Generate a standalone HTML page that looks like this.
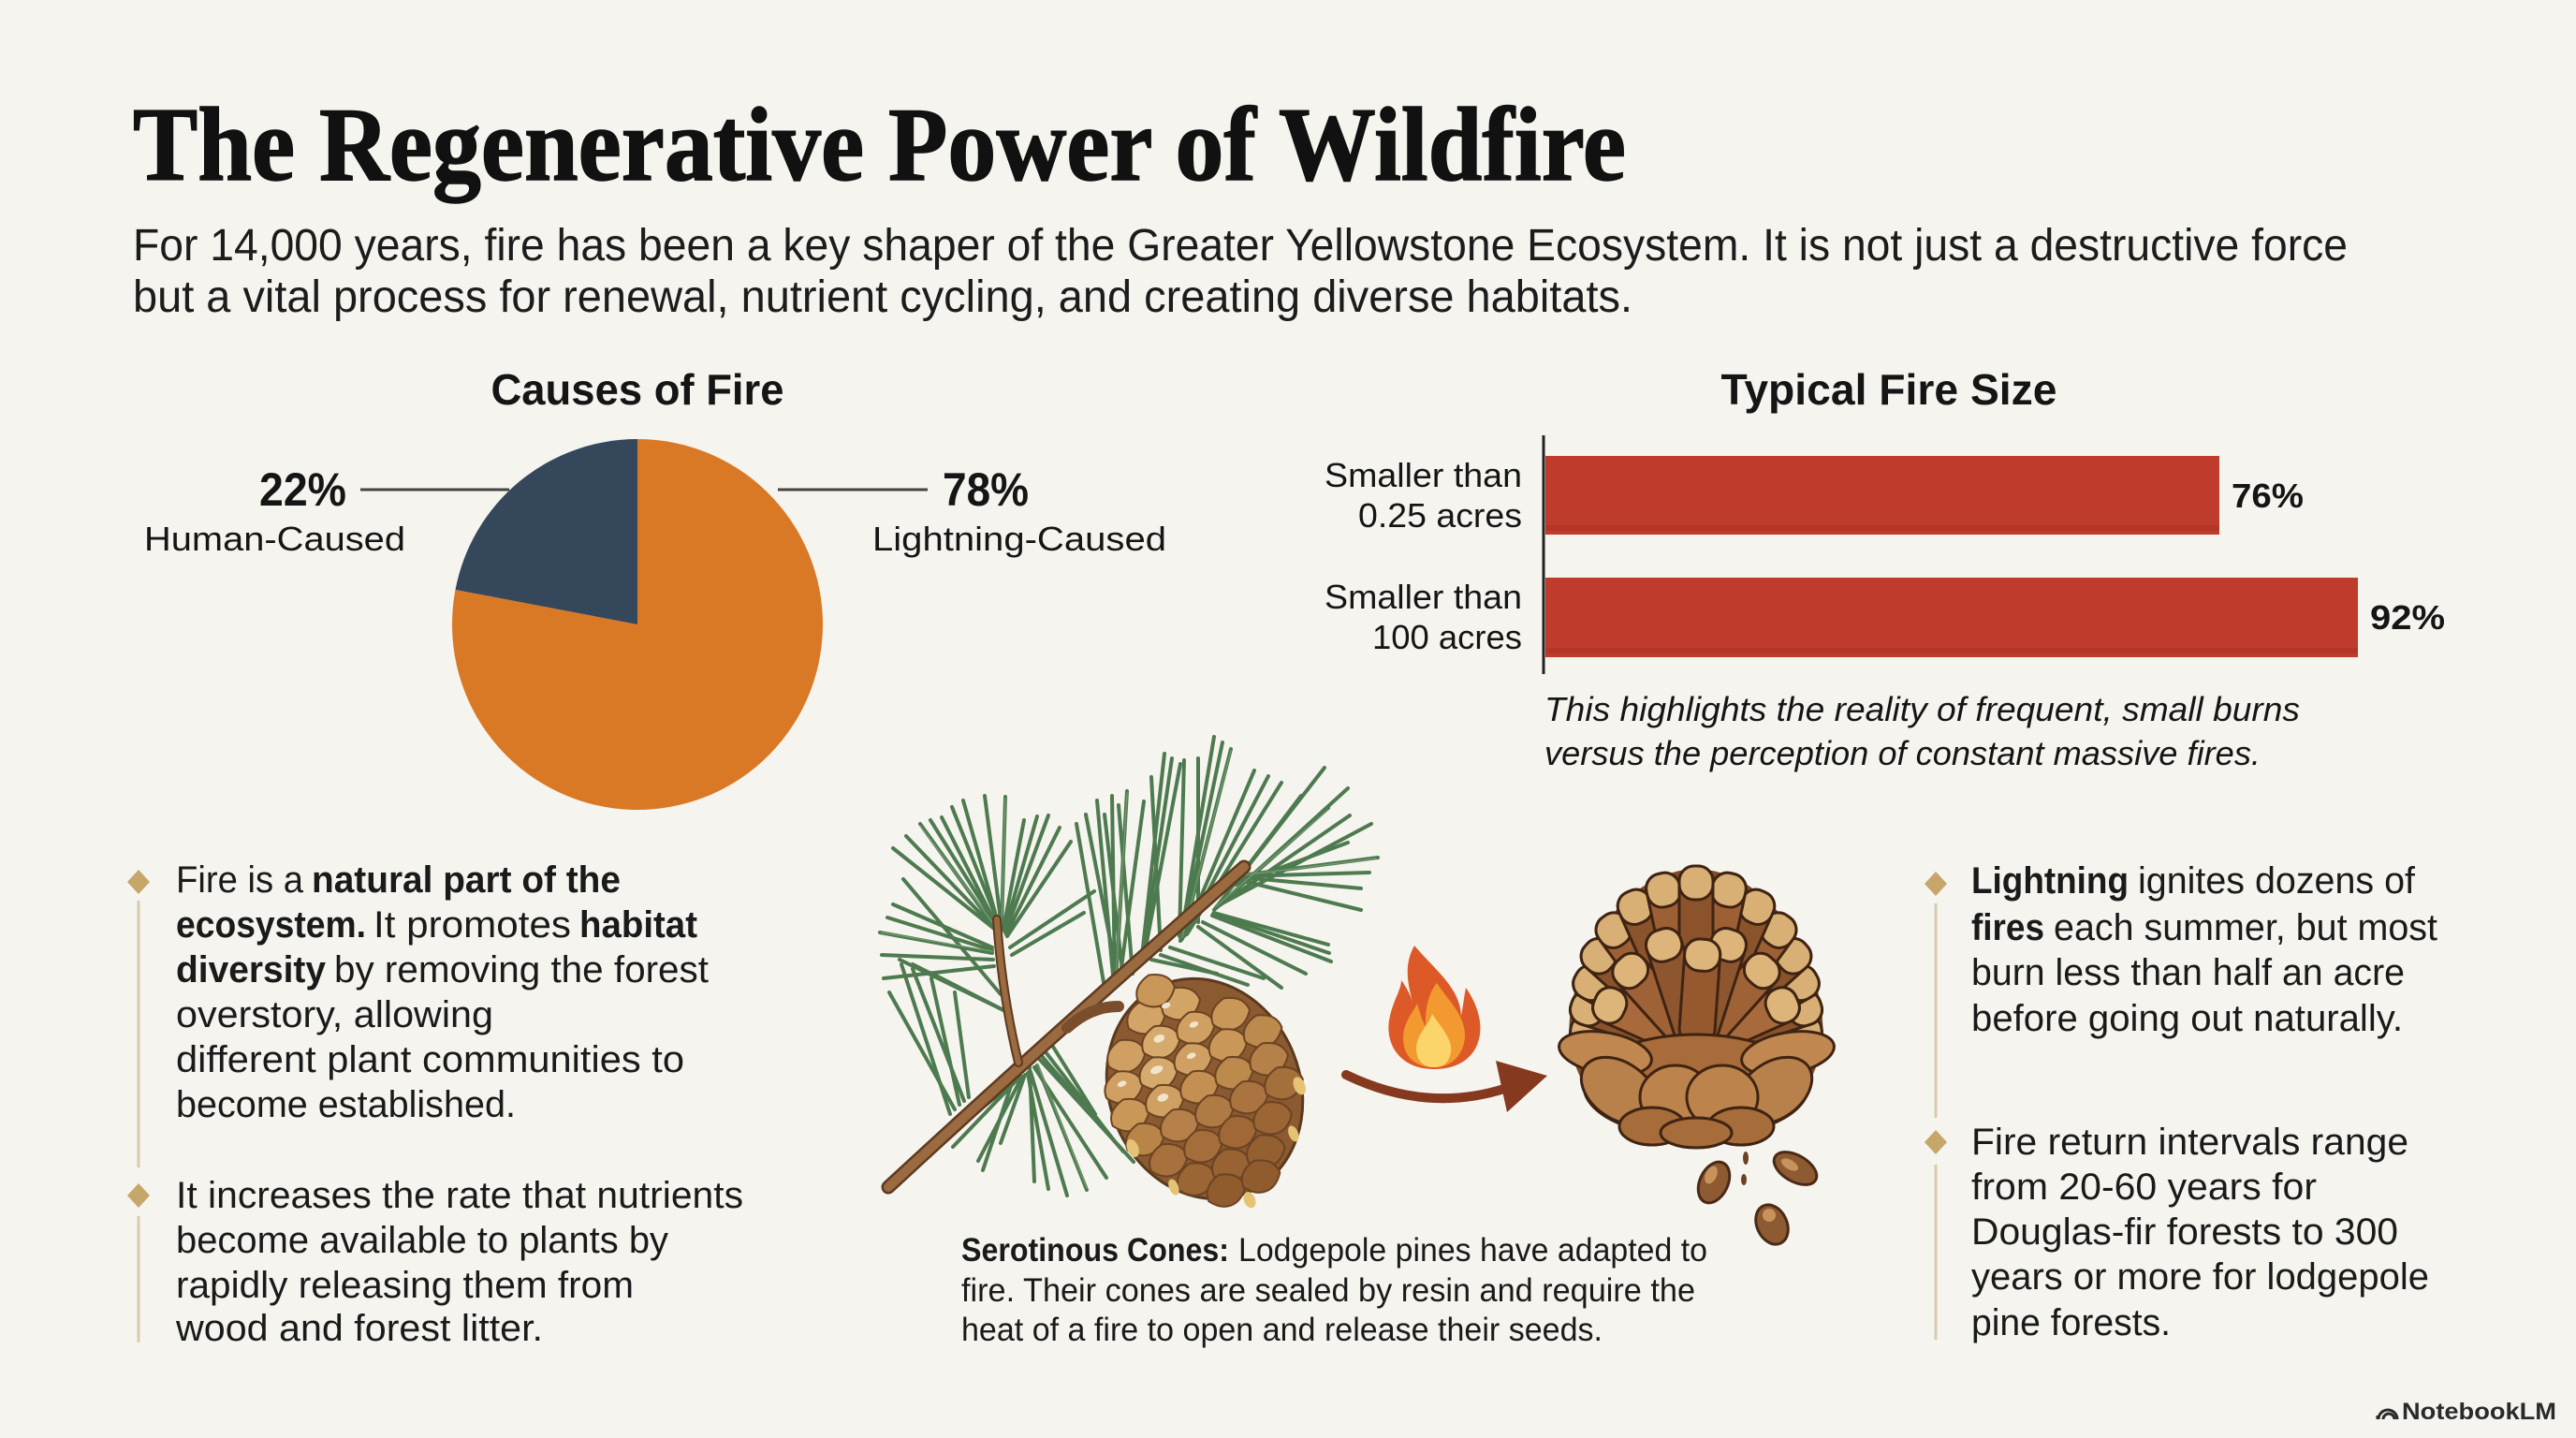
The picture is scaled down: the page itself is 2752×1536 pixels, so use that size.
<!DOCTYPE html>
<html>
<head>
<meta charset="utf-8">
<style>
html,body{margin:0;padding:0;background:#F5F4EF;}
svg{display:block;}
.sans{font-family:"Liberation Sans",Arial,sans-serif;}
.serif{font-family:"Liberation Serif","Times New Roman",serif;}
</style>
</head>
<body>
<svg width="2752" height="1536" viewBox="0 0 2752 1536" xmlns="http://www.w3.org/2000/svg">
<rect width="2752" height="1536" fill="#F5F4EF"/>

<!-- Title -->
<text class="serif" x="142" y="192" font-size="112" font-weight="bold" fill="#111" stroke="#111" stroke-width="1.5" textLength="1595" lengthAdjust="spacingAndGlyphs">The Regenerative Power of Wildfire</text>

<!-- Subtitle -->
<g class="sans" font-size="48" fill="#1c1c1c">
<text x="142" y="278" textLength="2366" lengthAdjust="spacingAndGlyphs">For 14,000 years, fire has been a key shaper of the Greater Yellowstone Ecosystem. It is not just a destructive force</text>
<text x="142" y="333" textLength="1602" lengthAdjust="spacingAndGlyphs">but a vital process for renewal, nutrient cycling, and creating diverse habitats.</text>
</g>

<!-- Causes of Fire -->
<text class="sans" x="681" y="432" font-size="46" font-weight="bold" fill="#151515" text-anchor="middle" textLength="313" lengthAdjust="spacingAndGlyphs">Causes of Fire</text>
<path d="M681,667 L486.5,629.9 A198,198 0 1 0 681,469 Z" fill="#D97926"/>
<path d="M681,667 L681,469 A198,198 0 0 0 486.5,629.9 Z" fill="#34475B"/>
<line x1="385" y1="523" x2="544" y2="523" stroke="#444" stroke-width="3"/>
<line x1="831" y1="523" x2="991" y2="523" stroke="#444" stroke-width="3"/>
<g class="sans" fill="#151515">
<text x="277" y="540" font-size="50" font-weight="bold" textLength="93" lengthAdjust="spacingAndGlyphs">22%</text>
<text x="154" y="588" font-size="36" textLength="279" lengthAdjust="spacingAndGlyphs">Human-Caused</text>
<text x="1007" y="540" font-size="50" font-weight="bold" textLength="92" lengthAdjust="spacingAndGlyphs">78%</text>
<text x="932" y="588" font-size="36" textLength="314" lengthAdjust="spacingAndGlyphs">Lightning-Caused</text>
</g>

<!-- Typical Fire Size -->
<text class="sans" x="2018" y="432" font-size="46" font-weight="bold" fill="#151515" text-anchor="middle" textLength="359" lengthAdjust="spacingAndGlyphs">Typical Fire Size</text>
<rect x="1651" y="487" width="720" height="84" fill="#BF3B2B"/>
<rect x="1651" y="561" width="720" height="6" fill="#A93324" opacity="0.6"/>
<rect x="1651" y="617" width="868" height="85" fill="#BF3B2B"/>
<rect x="1651" y="692" width="868" height="6" fill="#A93324" opacity="0.6"/>
<line x1="1649" y1="465" x2="1649" y2="720" stroke="#222" stroke-width="3"/>
<g class="sans" fill="#151515" font-size="36">
<text x="1626" y="520" text-anchor="end" textLength="211" lengthAdjust="spacingAndGlyphs">Smaller than</text>
<text x="1626" y="563" text-anchor="end" textLength="175" lengthAdjust="spacingAndGlyphs">0.25 acres</text>
<text x="1626" y="650" text-anchor="end" textLength="211" lengthAdjust="spacingAndGlyphs">Smaller than</text>
<text x="1626" y="693" text-anchor="end" textLength="160" lengthAdjust="spacingAndGlyphs">100 acres</text>
<text x="2384" y="542" font-weight="bold" textLength="77" lengthAdjust="spacingAndGlyphs">76%</text>
<text x="2532" y="672" font-weight="bold" textLength="80" lengthAdjust="spacingAndGlyphs">92%</text>
<text x="1650" y="770" font-style="italic" textLength="807" lengthAdjust="spacingAndGlyphs">This highlights the reality of frequent, small burns</text>
<text x="1650" y="817" font-style="italic" textLength="765" lengthAdjust="spacingAndGlyphs">versus the perception of constant massive fires.</text>
</g>

<!-- Left bullets -->
<line x1="148" y1="962" x2="148" y2="1247" stroke="#D9CBAE" stroke-width="3"/>
<line x1="148" y1="1299" x2="148" y2="1434" stroke="#D9CBAE" stroke-width="3"/>
<path d="M148,929 L160,942 L148,955 L136,942 Z" fill="#C7A66A"/>
<path d="M148,1264 L160,1277 L148,1290 L136,1277 Z" fill="#C7A66A"/>
<g class="sans" fill="#1a1a1a" font-size="40">
<text x="188" y="953" textLength="136" lengthAdjust="spacingAndGlyphs">Fire is a</text>
<text x="333" y="953" font-weight="bold" textLength="330" lengthAdjust="spacingAndGlyphs">natural part of the</text>
<text x="188" y="1001" font-weight="bold" textLength="203" lengthAdjust="spacingAndGlyphs">ecosystem.</text>
<text x="399" y="1001" textLength="211" lengthAdjust="spacingAndGlyphs">It promotes</text>
<text x="619" y="1001" font-weight="bold" textLength="126" lengthAdjust="spacingAndGlyphs">habitat</text>
<text x="188" y="1049" font-weight="bold" textLength="160" lengthAdjust="spacingAndGlyphs">diversity</text>
<text x="357" y="1049" textLength="400" lengthAdjust="spacingAndGlyphs">by removing the forest</text>
<text x="188" y="1097" textLength="339" lengthAdjust="spacingAndGlyphs">overstory, allowing</text>
<text x="188" y="1145" textLength="543" lengthAdjust="spacingAndGlyphs">different plant communities to</text>
<text x="188" y="1193" textLength="363" lengthAdjust="spacingAndGlyphs">become established.</text>
<text x="188" y="1290" textLength="606" lengthAdjust="spacingAndGlyphs">It increases the rate that nutrients</text>
<text x="188" y="1338" textLength="526" lengthAdjust="spacingAndGlyphs">become available to plants by</text>
<text x="188" y="1386" textLength="489" lengthAdjust="spacingAndGlyphs">rapidly releasing them from</text>
<text x="188" y="1432" textLength="392" lengthAdjust="spacingAndGlyphs">wood and forest litter.</text>
</g>

<!-- Right bullets -->
<line x1="2068" y1="965" x2="2068" y2="1194" stroke="#D9CBAE" stroke-width="3"/>
<line x1="2068" y1="1244" x2="2068" y2="1431" stroke="#D9CBAE" stroke-width="3"/>
<path d="M2068,931 L2080,944 L2068,957 L2056,944 Z" fill="#C7A66A"/>
<path d="M2068,1207 L2080,1220 L2068,1233 L2056,1220 Z" fill="#C7A66A"/>
<g class="sans" fill="#1a1a1a" font-size="40">
<text x="2106" y="954" font-weight="bold" textLength="168" lengthAdjust="spacingAndGlyphs">Lightning</text>
<text x="2284" y="954" textLength="296" lengthAdjust="spacingAndGlyphs">ignites dozens of</text>
<text x="2106" y="1004" font-weight="bold" textLength="78" lengthAdjust="spacingAndGlyphs">fires</text>
<text x="2194" y="1004" textLength="410" lengthAdjust="spacingAndGlyphs">each summer, but most</text>
<text x="2106" y="1052" textLength="463" lengthAdjust="spacingAndGlyphs">burn less than half an acre</text>
<text x="2106" y="1101" textLength="461" lengthAdjust="spacingAndGlyphs">before going out naturally.</text>
<text x="2106" y="1233" textLength="467" lengthAdjust="spacingAndGlyphs">Fire return intervals range</text>
<text x="2106" y="1281" textLength="369" lengthAdjust="spacingAndGlyphs">from 20-60 years for</text>
<text x="2106" y="1329" textLength="456" lengthAdjust="spacingAndGlyphs">Douglas-fir forests to 300</text>
<text x="2106" y="1377" textLength="489" lengthAdjust="spacingAndGlyphs">years or more for lodgepole</text>
<text x="2106" y="1426" textLength="213" lengthAdjust="spacingAndGlyphs">pine forests.</text>
</g>

<!-- Caption -->
<g class="sans" fill="#1a1a1a" font-size="35">
<text x="1027" y="1347" font-weight="bold" textLength="286" lengthAdjust="spacingAndGlyphs">Serotinous Cones:</text>
<text x="1323" y="1347" textLength="501" lengthAdjust="spacingAndGlyphs">Lodgepole pines have adapted to</text>
<text x="1027" y="1390" textLength="784" lengthAdjust="spacingAndGlyphs">fire. Their cones are sealed by resin and require the</text>
<text x="1027" y="1432" textLength="685" lengthAdjust="spacingAndGlyphs">heat of a fire to open and release their seeds.</text>
</g>

<!-- Pine branch needles -->
<g stroke="#4E7A4F" stroke-width="4" stroke-linecap="round" fill="none">
<line x1="1066" y1="995" x2="954" y2="906"/>
<line x1="1066" y1="995" x2="983" y2="880"/>
<line x1="1068" y1="995" x2="1006" y2="873"/>
<line x1="1068" y1="992" x2="1029" y2="855"/>
<line x1="1070" y1="990" x2="1074" y2="851"/>
<line x1="1072" y1="992" x2="1094" y2="876"/>
<line x1="1074" y1="996" x2="1120" y2="871"/>
<line x1="1076" y1="1000" x2="1144" y2="899"/>
<line x1="1060" y1="1012" x2="954" y2="966"/>
<line x1="1060" y1="1018" x2="940" y2="996"/>
<line x1="1062" y1="1032" x2="944" y2="1045"/>
<line x1="1072" y1="1079" x2="961" y2="1025"/>
<line x1="1072" y1="1079" x2="994" y2="1039"/>
<line x1="1069" y1="1062" x2="965" y2="939"/>
<line x1="1079" y1="1012" x2="1169" y2="952"/>
<line x1="1081" y1="1020" x2="1158" y2="975"/>
<line x1="1015" y1="1190" x2="963" y2="1030"/>
<line x1="1025" y1="1180" x2="995" y2="1045"/>
<line x1="1035" y1="1172" x2="1020" y2="1060"/>
<line x1="1111" y1="1132" x2="1211" y2="1241"/>
<line x1="1108" y1="1138" x2="1161" y2="1271"/>
<line x1="1101" y1="1145" x2="1140" y2="1277"/>
<line x1="1095" y1="1148" x2="1069" y2="1221"/>
<line x1="1118" y1="1125" x2="1190" y2="1218"/>
<line x1="1090" y1="1151" x2="1022" y2="1205"/>
<line x1="1085" y1="1155" x2="1018" y2="1225"/>
<line x1="1125" y1="1118" x2="1170" y2="1190"/>
<line x1="1080" y1="1160" x2="1050" y2="1250"/>
<line x1="1100" y1="1140" x2="1105" y2="1262"/>
<line x1="1190" y1="1052" x2="1172" y2="855"/>
<line x1="1192" y1="1050" x2="1204" y2="845"/>
<line x1="1196" y1="1048" x2="1222" y2="856"/>
<line x1="1219" y1="1030" x2="1244" y2="805"/>
<line x1="1221" y1="1028" x2="1261" y2="816"/>
<line x1="1261" y1="1005" x2="1297" y2="787"/>
<line x1="1263" y1="1003" x2="1315" y2="800"/>
<line x1="1265" y1="1000" x2="1340" y2="823"/>
<line x1="1268" y1="998" x2="1369" y2="836"/>
<line x1="1297" y1="972" x2="1415" y2="820"/>
<line x1="1299" y1="970" x2="1419" y2="863"/>
<line x1="1300" y1="968" x2="1465" y2="880"/>
<line x1="1326" y1="935" x2="1472" y2="916"/>
<line x1="1326" y1="937" x2="1454" y2="949"/>
<line x1="1324" y1="940" x2="1454" y2="972"/>
<line x1="1297" y1="975" x2="1419" y2="1009"/>
<line x1="1295" y1="978" x2="1422" y2="1027"/>
<line x1="1280" y1="990" x2="1369" y2="1055"/>
<line x1="1240" y1="1020" x2="1333" y2="1052"/>
<line x1="1230" y1="1025" x2="1300" y2="1040"/>
<line x1="1180" y1="1055" x2="1150" y2="880"/>
<line x1="1200" y1="1045" x2="1180" y2="870"/>
<line x1="1240" y1="1015" x2="1230" y2="830"/>
<line x1="1280" y1="985" x2="1280" y2="810"/>
<line x1="1310" y1="955" x2="1390" y2="850"/>
<line x1="1320" y1="945" x2="1440" y2="900"/>
<line x1="1066" y1="995" x2="968" y2="893"/>
<line x1="1068" y1="994" x2="994" y2="876"/>
<line x1="1069" y1="992" x2="1017" y2="862"/>
<line x1="1070" y1="990" x2="1052" y2="850"/>
<line x1="1073" y1="994" x2="1108" y2="872"/>
<line x1="1075" y1="998" x2="1132" y2="884"/>
<line x1="1060" y1="1015" x2="948" y2="980"/>
<line x1="1061" y1="1025" x2="942" y2="1020"/>
<line x1="1072" y1="1079" x2="975" y2="1030"/>
<line x1="1030" y1="1176" x2="975" y2="1035"/>
<line x1="1020" y1="1185" x2="950" y2="1060"/>
<line x1="1105" y1="1140" x2="1182" y2="1258"/>
<line x1="1098" y1="1146" x2="1120" y2="1270"/>
<line x1="1092" y1="1150" x2="1045" y2="1240"/>
<line x1="1113" y1="1128" x2="1200" y2="1230"/>
<line x1="1088" y1="1153" x2="1000" y2="1215"/>
<line x1="1191" y1="1051" x2="1188" y2="850"/>
<line x1="1220" y1="1029" x2="1252" y2="810"/>
<line x1="1262" y1="1004" x2="1306" y2="793"/>
<line x1="1266" y1="999" x2="1355" y2="829"/>
<line x1="1298" y1="971" x2="1440" y2="842"/>
<line x1="1300" y1="969" x2="1442" y2="871"/>
<line x1="1325" y1="936" x2="1463" y2="932"/>
<line x1="1296" y1="976" x2="1420" y2="1018"/>
<line x1="1285" y1="985" x2="1395" y2="1040"/>
<line x1="1250" y1="1012" x2="1350" y2="1045"/>
<line x1="1210" y1="1040" x2="1195" y2="860"/>
<line x1="1260" y1="1000" x2="1265" y2="812"/>
<line x1="1195" y1="1050" x2="1160" y2="870"/>
</g>
<g stroke="#7FA37A" stroke-width="1.2" stroke-linecap="round" fill="none" opacity="0.8">
<line x1="1066" y1="993" x2="983" y2="882"/>
<line x1="1070" y1="988" x2="1074" y2="853"/>
<line x1="1060" y1="1016" x2="942" y2="996"/>
<line x1="1192" y1="1048" x2="1204" y2="847"/>
<line x1="1263" y1="1001" x2="1315" y2="802"/>
<line x1="1299" y1="968" x2="1419" y2="865"/>
<line x1="1326" y1="935" x2="1470" y2="917"/>
<line x1="1108" y1="1136" x2="1161" y2="1269"/>
</g>

<!-- Branch -->
<path d="M949,1268 Q1120,1110 1329,926" stroke="#5E3A20" stroke-width="15" fill="none" stroke-linecap="round"/>
<path d="M949,1268 Q1120,1110 1329,926" stroke="#9A6A40" stroke-width="10" fill="none" stroke-linecap="round"/>
<path d="M1088,1135 Q1070,1060 1065,982" stroke="#5E3A20" stroke-width="10" fill="none" stroke-linecap="round"/>
<path d="M1088,1135 Q1070,1060 1065,982" stroke="#9A6A40" stroke-width="6" fill="none" stroke-linecap="round"/>
<path d="M1140,1098 Q1165,1075 1195,1075" stroke="#7A4E2C" stroke-width="12" fill="none" stroke-linecap="round"/>

<!-- Closed cone -->
<defs>
<path id="sc" d="M0,-17 Q21,-12 21,5 Q12,18 0,18 Q-12,18 -21,5 Q-21,-12 0,-17Z"/>
</defs>
<g transform="translate(1287,1163) rotate(-22)">
<ellipse cx="0" cy="0" rx="102" ry="120" fill="#8C5A30" stroke="#5A3A1E" stroke-width="3"/>
<g stroke="#6B4423" stroke-width="2">
<use href="#sc" x="-30" y="-95" fill="#D2A466"/>
<use href="#sc" x="10" y="-95" fill="#D2A466"/>
<use href="#sc" x="-65" y="-65" fill="#CFA062"/>
<use href="#sc" x="-25" y="-65" fill="#D6AA6C"/>
<use href="#sc" x="15" y="-65" fill="#CFA062"/>
<use href="#sc" x="55" y="-65" fill="#C99858"/>
<use href="#sc" x="-80" y="-35" fill="#CFA062"/>
<use href="#sc" x="-40" y="-35" fill="#D6AA6C"/>
<use href="#sc" x="0" y="-35" fill="#CFA062"/>
<use href="#sc" x="40" y="-35" fill="#C99858"/>
<use href="#sc" x="80" y="-35" fill="#BD8A4E"/>
<use href="#sc" x="-85" y="-5" fill="#C99858"/>
<use href="#sc" x="-45" y="-5" fill="#CFA062"/>
<use href="#sc" x="-5" y="-5" fill="#C48F52"/>
<use href="#sc" x="35" y="-5" fill="#BD8A4E"/>
<use href="#sc" x="75" y="-5" fill="#B5804A"/>
<use href="#sc" x="-80" y="25" fill="#B98448"/>
<use href="#sc" x="-40" y="25" fill="#B5804A"/>
<use href="#sc" x="0" y="25" fill="#B07A44"/>
<use href="#sc" x="40" y="25" fill="#AA7440"/>
<use href="#sc" x="80" y="25" fill="#A56F3C"/>
<use href="#sc" x="-65" y="55" fill="#A8703C"/>
<use href="#sc" x="-25" y="55" fill="#A56D3A"/>
<use href="#sc" x="15" y="55" fill="#A06836"/>
<use href="#sc" x="55" y="55" fill="#9C6534"/>
<use href="#sc" x="-45" y="85" fill="#9C6534"/>
<use href="#sc" x="-5" y="85" fill="#986232"/>
<use href="#sc" x="35" y="85" fill="#946030"/>
<use href="#sc" x="-20" y="108" fill="#905C2E"/>
<use href="#sc" x="20" y="108" fill="#905C2E"/>
<use href="#sc" x="-10" y="-118" fill="#C99858"/>
</g>
<g fill="#F4EBD6" opacity="0.9">
<ellipse cx="-25" cy="-68" rx="6" ry="4"/>
<ellipse cx="-40" cy="-38" rx="7" ry="4"/>
<ellipse cx="0" cy="-38" rx="5" ry="3"/>
<ellipse cx="-80" cy="-38" rx="5" ry="3"/>
<ellipse cx="-45" cy="-8" rx="6" ry="4"/>
<ellipse cx="15" cy="-68" rx="5" ry="3"/>
<ellipse cx="-5" cy="-98" rx="5" ry="3"/>
</g>
<g fill="#E6C274">
<ellipse cx="-95" cy="30" rx="6" ry="10"/>
<ellipse cx="95" cy="35" rx="6" ry="10"/>
<ellipse cx="-70" cy="85" rx="5" ry="9"/>
<ellipse cx="70" cy="80" rx="5" ry="9"/>
<ellipse cx="0" cy="128" rx="6" ry="9"/>
</g>
</g>

<!-- Fire -->
<path d="M1532,1142 C1495,1142 1480,1115 1484,1090 C1488,1068 1497,1058 1497,1047 C1505,1058 1508,1066 1510,1074 C1503,1048 1500,1030 1511,1010 C1532,1035 1560,1055 1561,1085 C1563,1075 1564,1065 1566,1055 C1580,1075 1584,1095 1580,1110 C1575,1130 1558,1142 1532,1142 Z" fill="#DD5A28"/>
<path d="M1532,1140 C1505,1140 1496,1120 1500,1100 C1503,1088 1510,1080 1514,1072 C1518,1085 1520,1092 1523,1096 C1522,1075 1528,1058 1535,1050 C1548,1070 1566,1085 1565,1108 C1563,1128 1550,1140 1532,1140 Z" fill="#F29A30"/>
<path d="M1532,1140 C1515,1140 1511,1125 1514,1113 C1518,1100 1526,1095 1530,1083 C1540,1098 1552,1110 1550,1124 C1548,1135 1542,1140 1532,1140 Z" fill="#FBD56A"/>

<!-- Arrow -->
<path d="M1438,1148 Q1525,1190 1610,1162" stroke="#85391F" stroke-width="10" fill="none" stroke-linecap="round"/>
<path d="M1598,1133 L1653,1149 L1610,1188 Z" fill="#85391F"/>

<!-- Open cone -->
<path d="M1812,928 C1880,930 1935,1000 1946,1080 C1955,1140 1920,1215 1812,1222 C1705,1215 1668,1140 1678,1080 C1690,1000 1745,930 1812,928 Z" fill="#7E4A28"/>
<g stroke="#3F2413" stroke-width="3">
<g transform="translate(1812,1115) rotate(-84)"><rect x="-18" y="-135" width="36" height="135" rx="16" fill="#9C6034"/><rect x="-18" y="-135" width="36" height="36" rx="16" fill="#D8AF74"/></g>
<g transform="translate(1812,1115) rotate(84)"><rect x="-18" y="-135" width="36" height="135" rx="16" fill="#9C6034"/><rect x="-18" y="-135" width="36" height="36" rx="16" fill="#D8AF74"/></g>
<g transform="translate(1812,1115) rotate(-72)"><rect x="-18" y="-140" width="36" height="140" rx="16" fill="#8A532C"/><rect x="-18" y="-140" width="36" height="36" rx="16" fill="#D8AF74"/></g>
<g transform="translate(1812,1115) rotate(72)"><rect x="-18" y="-140" width="36" height="140" rx="16" fill="#8A532C"/><rect x="-18" y="-140" width="36" height="36" rx="16" fill="#D8AF74"/></g>
<g transform="translate(1812,1115) rotate(-60)"><rect x="-18" y="-148" width="36" height="148" rx="16" fill="#9C6034"/><rect x="-18" y="-148" width="36" height="36" rx="16" fill="#D8AF74"/></g>
<g transform="translate(1812,1115) rotate(60)"><rect x="-18" y="-148" width="36" height="148" rx="16" fill="#9C6034"/><rect x="-18" y="-148" width="36" height="36" rx="16" fill="#D8AF74"/></g>
<g transform="translate(1812,1115) rotate(-48)"><rect x="-18" y="-158" width="36" height="158" rx="16" fill="#8A532C"/><rect x="-18" y="-158" width="36" height="36" rx="16" fill="#D8AF74"/></g>
<g transform="translate(1812,1115) rotate(48)"><rect x="-18" y="-158" width="36" height="158" rx="16" fill="#8A532C"/><rect x="-18" y="-158" width="36" height="36" rx="16" fill="#D8AF74"/></g>
<g transform="translate(1812,1115) rotate(-36)"><rect x="-18" y="-168" width="36" height="168" rx="16" fill="#9C6034"/><rect x="-18" y="-168" width="36" height="36" rx="16" fill="#D8AF74"/></g>
<g transform="translate(1812,1115) rotate(36)"><rect x="-18" y="-168" width="36" height="168" rx="16" fill="#9C6034"/><rect x="-18" y="-168" width="36" height="36" rx="16" fill="#D8AF74"/></g>
<g transform="translate(1812,1115) rotate(-24)"><rect x="-18" y="-178" width="36" height="178" rx="16" fill="#8A532C"/><rect x="-18" y="-178" width="36" height="36" rx="16" fill="#D8AF74"/></g>
<g transform="translate(1812,1115) rotate(24)"><rect x="-18" y="-178" width="36" height="178" rx="16" fill="#8A532C"/><rect x="-18" y="-178" width="36" height="36" rx="16" fill="#D8AF74"/></g>
<g transform="translate(1812,1115) rotate(-12)"><rect x="-18" y="-186" width="36" height="186" rx="16" fill="#9C6034"/><rect x="-18" y="-186" width="36" height="36" rx="16" fill="#D8AF74"/></g>
<g transform="translate(1812,1115) rotate(12)"><rect x="-18" y="-186" width="36" height="186" rx="16" fill="#9C6034"/><rect x="-18" y="-186" width="36" height="36" rx="16" fill="#D8AF74"/></g>
<g transform="translate(1812,1115) rotate(0)"><rect x="-18" y="-190" width="36" height="190" rx="16" fill="#8A532C"/><rect x="-18" y="-190" width="36" height="36" rx="16" fill="#D8AF74"/></g>
<g transform="translate(1812,1115) rotate(-66)"><rect x="-19" y="-118" width="38" height="118" rx="16" fill="#A86A3C"/><rect x="-19" y="-118" width="38" height="34" rx="16" fill="#DDB57A"/></g>
<g transform="translate(1812,1115) rotate(66)"><rect x="-19" y="-118" width="38" height="118" rx="16" fill="#A86A3C"/><rect x="-19" y="-118" width="38" height="34" rx="16" fill="#DDB57A"/></g>
<g transform="translate(1812,1115) rotate(-42)"><rect x="-19" y="-122" width="38" height="122" rx="16" fill="#9E6236"/><rect x="-19" y="-122" width="38" height="34" rx="16" fill="#DDB57A"/></g>
<g transform="translate(1812,1115) rotate(42)"><rect x="-19" y="-122" width="38" height="122" rx="16" fill="#9E6236"/><rect x="-19" y="-122" width="38" height="34" rx="16" fill="#DDB57A"/></g>
<g transform="translate(1812,1115) rotate(-18)"><rect x="-19" y="-128" width="38" height="128" rx="16" fill="#8E562E"/><rect x="-19" y="-128" width="38" height="34" rx="16" fill="#DDB57A"/></g>
<g transform="translate(1812,1115) rotate(18)"><rect x="-19" y="-128" width="38" height="128" rx="16" fill="#8E562E"/><rect x="-19" y="-128" width="38" height="34" rx="16" fill="#DDB57A"/></g>
<g transform="translate(1812,1115) rotate(4)"><rect x="-19" y="-112" width="38" height="112" rx="16" fill="#96592F"/><rect x="-19" y="-112" width="38" height="34" rx="16" fill="#DDB57A"/></g>
<ellipse cx="1812" cy="1160" rx="120" ry="55" fill="#A86B3A"/>
<ellipse cx="1715" cy="1125" rx="50" ry="22" transform="rotate(10 1715 1125)" fill="#C08850"/>
<ellipse cx="1910" cy="1125" rx="50" ry="22" transform="rotate(-10 1910 1125)" fill="#C08850"/>
<ellipse cx="1730" cy="1165" rx="45" ry="30" transform="rotate(35 1730 1165)" fill="#B8804A"/>
<ellipse cx="1895" cy="1165" rx="45" ry="30" transform="rotate(-35 1895 1165)" fill="#B8804A"/>
<ellipse cx="1790" cy="1172" rx="38" ry="34" fill="#BC844C"/>
<ellipse cx="1840" cy="1172" rx="38" ry="34" fill="#BC844C"/>
<ellipse cx="1765" cy="1203" rx="35" ry="20" fill="#A66C3A"/>
<ellipse cx="1860" cy="1203" rx="35" ry="20" fill="#A66C3A"/>
<ellipse cx="1812" cy="1210" rx="38" ry="16" fill="#A66C3A"/>
</g>

<!-- Seeds -->
<g stroke="#4A2A16" stroke-width="3">
<ellipse cx="1831" cy="1263" rx="15" ry="23" transform="rotate(25 1831 1263)" fill="#8E5A32"/>
<ellipse cx="1918" cy="1248" rx="25" ry="14" transform="rotate(30 1918 1248)" fill="#8E5A32"/>
<ellipse cx="1893" cy="1308" rx="16" ry="22" transform="rotate(-25 1893 1308)" fill="#8E5A32"/>
</g>
<g fill="#C8935A">
<ellipse cx="1828" cy="1255" rx="6" ry="10" transform="rotate(25 1828 1255)"/>
<ellipse cx="1912" cy="1244" rx="10" ry="5" transform="rotate(30 1912 1244)"/>
<ellipse cx="1890" cy="1298" rx="7" ry="7"/>
</g>
<ellipse cx="1865" cy="1237" rx="3" ry="7" fill="#6B4226"/>
<ellipse cx="1863" cy="1260" rx="3" ry="6" fill="#6B4226"/>

<!-- NotebookLM logo -->
<g fill="none" stroke="#2a2a2a" stroke-width="3">
<path d="M2541,1516 A10,10 0 0 1 2561,1516"/>
<path d="M2546,1516 A6,6 0 0 1 2558,1516"/>
<path d="M2540,1516 L2540,1512"/>
</g>
<text class="sans" x="2566" y="1516" font-size="25" font-weight="bold" fill="#2a2a2a" textLength="165" lengthAdjust="spacingAndGlyphs">NotebookLM</text>
</svg>
</body>
</html>
